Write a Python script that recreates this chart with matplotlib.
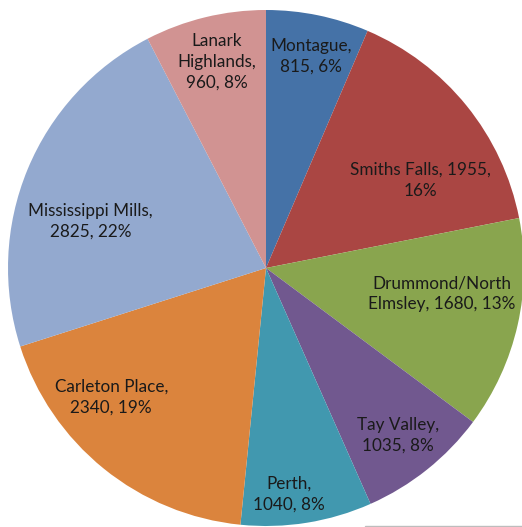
import numpy as np
import matplotlib.pyplot as plt
from matplotlib.patches import Rectangle

# data
towns = ["Montague", "Smiths Falls", "Drummond/North Elmsley", "Tay Valley",
         "Perth", "Carleton Place", "Mississippi Mills", "Lanark Highlands"]
counts = [815, 1955, 1680, 1035, 1040, 2340, 2825, 960]
labels = ["Montague,\n815, 6%", "Smiths Falls, 1955,\n16%", "Drummond/North\nElmsley, 1680, 13%",
          "Tay Valley,\n1035, 8%", "Perth,\n1040, 8%", "Carleton Place,\n2340, 19%",
          "Mississippi Mills,\n2825, 22%", "Lanark\nHighlands,\n960, 8%"]
colors = ["#4572A7", "#AA4643", "#89A54E", "#71588F", "#4198AF", "#DB843D", "#93A9CF", "#D19392"]

# label centres (fraction of radius, relative to pie centre)
label_pos = [(0.174, 0.82), (0.60, 0.34), (0.68, -0.10), (0.51, -0.65),
             (0.09, -0.876), (-0.60, -0.50), (-0.68, 0.18), (-0.19, 0.80)]

fig = plt.figure(figsize=(5.22, 5.27), dpi=100)
ax = fig.add_axes([0, 0, 1, 1])
ax.pie(counts, colors=colors, startangle=90, counterclock=False,
       wedgeprops=dict(linewidth=0))

for lab, (x, y) in zip(labels, label_pos):
    ax.text(x, y, lab, ha="center", va="center", fontsize=12.3,
            family="Lato", color="#1a1a1a", linespacing=1.35)

ax.set_xlim(-266 / 258, 256 / 258)
ax.set_ylim(-259 / 258, 268 / 258)
ax.set_aspect("auto")
ax.axis("off")

# bit of a box peeking in at the bottom right
fig.patches.append(Rectangle((365 / 522, -0.01), 0.5, 6 / 527, transform=fig.transFigure,
                             facecolor="#f4f4f4", edgecolor="#bdbdbd", linewidth=1))

fig.savefig("out.png", dpi=100)
